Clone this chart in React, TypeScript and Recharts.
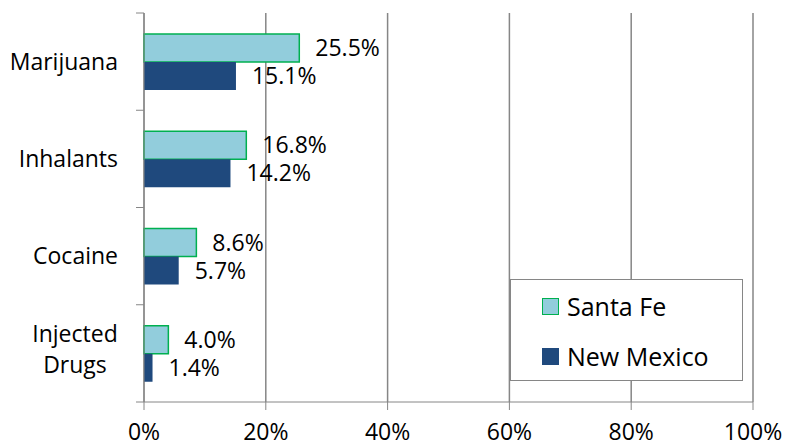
import React from "react";
import {
  BarChart,
  Bar,
  XAxis,
  YAxis,
  CartesianGrid,
  LabelList,
  Legend,
} from "recharts";

const categories = ["Marijuana", "Inhalants", "Cocaine", "Injected Drugs"];
const santaFe = [25.5, 16.8, 8.6, 4.0];
const newMexico = [15.1, 14.2, 5.7, 1.4];
const xTicks = [0, 20, 40, 60, 80, 100];

const data = categories.map((name, i) => ({
  name,
  santaFe: santaFe[i],
  newMexico: newMexico[i],
}));

const FONT = "'Open Sans', sans-serif";
const GRID = "#868686";
const TOP = 13;
const BOTTOM = 402;
const AXIS_X = 144;
const BAND = (BOTTOM - TOP) / categories.length;

// category label plus the tick marks that sit between categories
const CategoryTick = (props: any) => {
  const { y, payload, index } = props;
  const words = String(payload.value).split(" ");
  const wrap = String(payload.value).length > 10;
  return (
    <g>
      <line x1={AXIS_X - 8} x2={AXIS_X} y1={y - BAND / 2} y2={y - BAND / 2} stroke={GRID} />
      {index === categories.length - 1 && (
        <line x1={AXIS_X - 8} x2={AXIS_X} y1={y + BAND / 2} y2={y + BAND / 2} stroke={GRID} />
      )}
      {wrap ? (
        words.map((w, i) => (
          <text
            key={w}
            x={75}
            y={y - 19.5 + i * 31}
            dy="0.35em"
            textAnchor="middle"
            fontSize={23}
            fontFamily={FONT}
            fill="#000"
          >
            {w}
          </text>
        ))
      ) : (
        <text x={118} y={y} dy="0.35em" textAnchor="end" fontSize={23} fontFamily={FONT} fill="#000">
          {payload.value}
        </text>
      )}
    </g>
  );
};

const LegendBox = () => (
  <div
    style={{
      width: 233,
      height: 102,
      boxSizing: "border-box",
      border: `1px solid ${GRID}`,
      background: "#fff",
      fontFamily: FONT,
      fontSize: 25,
      color: "#000",
      position: "relative",
    }}
  >
    {[
      { label: "Santa Fe", fill: "#92CDDC", stroke: "#00B050", top: 15 },
      { label: "New Mexico", fill: "#1F497D", stroke: "#1F497D", top: 65 },
    ].map((it) => (
      <div key={it.label} style={{ position: "absolute", left: 31, top: it.top, height: 22, display: "flex", alignItems: "center" }}>
        <span
          style={{
            display: "inline-block",
            width: 17,
            height: 17,
            boxSizing: "border-box",
            background: it.fill,
            border: `1.5px solid ${it.stroke}`,
            marginRight: 8,
          }}
        />
        <span style={{ lineHeight: "22px" }}>{it.label}</span>
      </div>
    ))}
  </div>
);

export default function App() {
  return (
    <div>
      <style>{`body{margin:0}`}</style>
      <BarChart
        width={786}
        height={447}
        data={data}
        layout="vertical"
        margin={{ top: TOP, right: 33, bottom: 0, left: 0 }}
        barSize={28}
        barGap={0}
      >
        <CartesianGrid horizontal={false} vertical stroke={GRID} strokeWidth={1.5} />
        <XAxis
          type="number"
          domain={[0, 100]}
          ticks={xTicks}
          tickFormatter={(v: number) => `${v}%`}
          height={45}
          stroke={GRID}
          tickSize={8}
          tickMargin={14}
          tick={{ fontSize: 23, fontFamily: FONT, fill: "#000" }}
          interval={0}
        />
        <YAxis
          type="category"
          dataKey="name"
          width={144}
          stroke={GRID}
          tickLine={false}
          tick={<CategoryTick />}
          interval={0}
        />
        <Legend
          layout="horizontal"
          verticalAlign="middle"
          align="center"
          wrapperStyle={{ left: 510, top: 279, width: 233, height: 102 }}
          content={() => <LegendBox />}
        />
        <Bar dataKey="santaFe" name="Santa Fe" fill="#92CDDC" stroke="#00B050" strokeWidth={1.5} isAnimationActive={false}>
          <LabelList
            dataKey="santaFe"
            position="right"
            offset={16}
            formatter={(v: any) => `${Number(v).toFixed(1)}%`}
            style={{ fontSize: 23, fontFamily: FONT, fill: "#000" }}
          />
        </Bar>
        <Bar dataKey="newMexico" name="New Mexico" fill="#1F497D" isAnimationActive={false}>
          <LabelList
            dataKey="newMexico"
            position="right"
            offset={16}
            formatter={(v: any) => `${Number(v).toFixed(1)}%`}
            style={{ fontSize: 23, fontFamily: FONT, fill: "#000" }}
          />
        </Bar>
      </BarChart>
    </div>
  );
}
